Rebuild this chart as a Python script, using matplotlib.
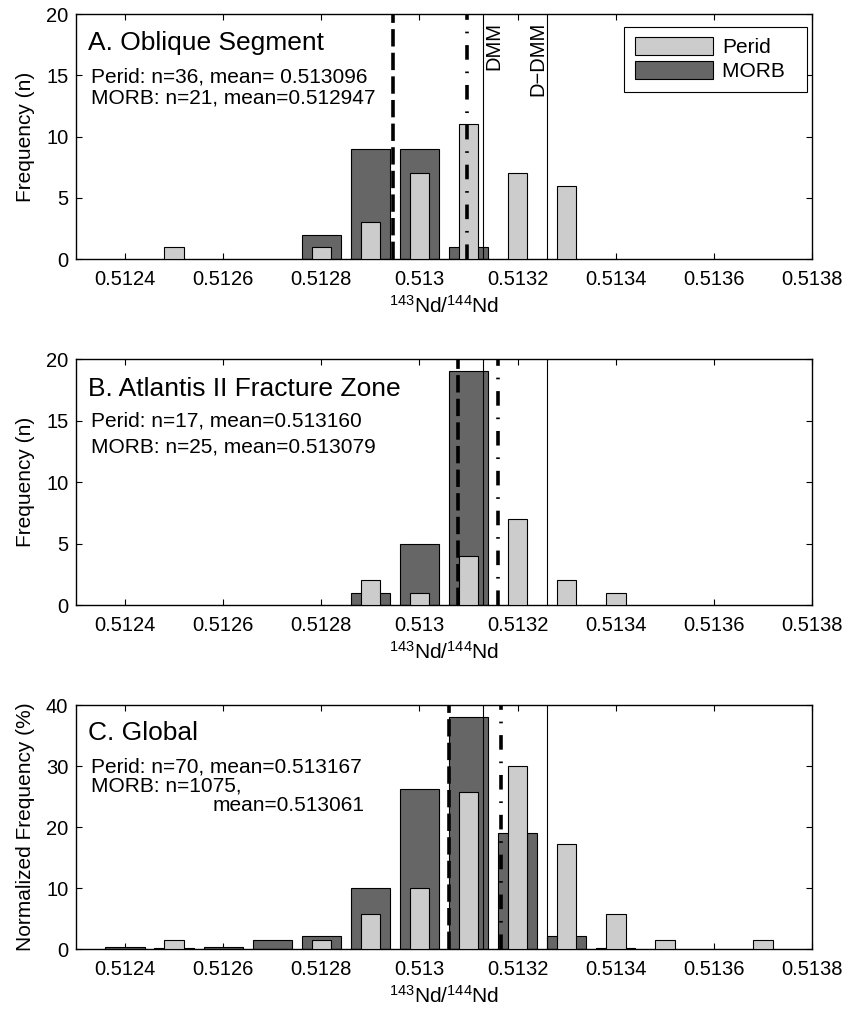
import matplotlib
matplotlib.use("Agg")
import matplotlib.pyplot as plt
from matplotlib.patches import Patch

plt.rcParams['font.family'] = ['Liberation Sans', 'DejaVu Sans']
plt.rcParams['lines.scale_dashes'] = False

# ---- data (bin centres and bar heights) ----
# A. Oblique Segment (counts)
a_perid_x = [0.5125, 0.5128, 0.5129, 0.5130, 0.5131, 0.5132, 0.5133]
a_perid_y = [1, 1, 3, 7, 11, 7, 6]
a_morb_x = [0.5128, 0.5129, 0.5130, 0.5131]
a_morb_y = [2, 9, 9, 1]

# B. Atlantis II Fracture Zone (counts)
b_perid_x = [0.5129, 0.5130, 0.5131, 0.5132, 0.5133, 0.5134]
b_perid_y = [2, 1, 4, 7, 2, 1]
b_morb_x = [0.5129, 0.5130, 0.5131]
b_morb_y = [1, 5, 19]

# C. Global (percent)
c_perid_x = [0.5125, 0.5128, 0.5129, 0.5130, 0.5131, 0.5132, 0.5133, 0.5134, 0.5135, 0.5137]
c_perid_y = [1.43, 1.43, 5.71, 10.0, 25.71, 30.0, 17.14, 5.71, 1.43, 1.43]
c_morb_x = [0.5124, 0.5125, 0.5126, 0.5127, 0.5128, 0.5129, 0.5130, 0.5131, 0.5132, 0.5133, 0.5134]
c_morb_y = [0.3, 0.2, 0.3, 1.5, 2.2, 10.0, 26.2, 38.0, 19.0, 2.2, 0.1]

morb_means = [0.512947, 0.513079, 0.513061]
perid_means = [0.513096, 0.513160, 0.513167]
dmm = 0.51313
d_dmm = 0.51326

titles = ['A. Oblique Segment', 'B. Atlantis II Fracture Zone', 'C. Global']
stats = [
    ['Perid: n=36, mean= 0.513096', 'MORB: n=21, mean=0.512947'],
    ['Perid: n=17, mean=0.513160', 'MORB: n=25, mean=0.513079'],
    ['Perid: n=70, mean=0.513167', 'MORB: n=1075,'],
]
ylabels = ['Frequency (n)', 'Frequency (n)', 'Normalized Frequency (%)']
ylims = [20, 20, 40]
yticks = [[0, 5, 10, 15, 20], [0, 5, 10, 15, 20], [0, 10, 20, 30, 40]]

xtick_vals = [0.5124, 0.5126, 0.5128, 0.5130, 0.5132, 0.5134, 0.5136, 0.5138]
xtick_labels = ['0.5124', '0.5126', '0.5128', '0.513', '0.5132', '0.5134', '0.5136', '0.5138']

perid_col = '#cccccc'
morb_col = '#666666'

fig = plt.figure(figsize=(8.49, 10.15), dpi=100)
boxes = [[0.0895, 0.7448, 0.8669, 0.2414],
         [0.0895, 0.4039, 0.8669, 0.2424],
         [0.0895, 0.0650, 0.8669, 0.2404]]

data = [(a_perid_x, a_perid_y, a_morb_x, a_morb_y),
        (b_perid_x, b_perid_y, b_morb_x, b_morb_y),
        (c_perid_x, c_perid_y, c_morb_x, c_morb_y)]

# text y positions (axes fraction)
title_y = [0.882, 0.878, 0.885]
stat_y = [[0.743, 0.657], [0.749, 0.643], [0.747, 0.669]]

for i in range(3):
    ax = fig.add_axes(boxes[i])
    px, py, mx, my = data[i]
    ax.bar(mx, my, width=0.00008, color=morb_col, edgecolor='k', linewidth=0.8, zorder=2)
    ax.bar(px, py, width=0.00004, color=perid_col, edgecolor='k', linewidth=0.8, zorder=3)

    ax.axvline(dmm, color='k', lw=0.8, zorder=4)
    ax.axvline(d_dmm, color='k', lw=0.8, zorder=4)
    ax.axvline(morb_means[i], color='k', lw=2.6, linestyle=(0, (12.5, 4.5)), zorder=5)
    ax.axvline(perid_means[i], color='k', lw=2.6, linestyle=(0, (10.5, 8.5, 1.2, 8.5)), zorder=5)

    ax.set_xlim(0.5123, 0.5138)
    ax.set_ylim(0, ylims[i])
    ax.set_xticks(xtick_vals)
    ax.set_xticklabels(xtick_labels)
    ax.set_yticks(yticks[i])
    ax.tick_params(direction='in', top=True, right=True, length=4, width=0.8,
                   labelsize=14.5)
    ax.tick_params(axis='x', pad=8)
    ax.tick_params(axis='y', pad=5.5)
    for s in ax.spines.values():
        s.set_linewidth(1.0)

    ax.set_ylabel(ylabels[i], fontsize=15, labelpad=8)
    ax.set_xlabel(r'$\mathregular{^{143}Nd/^{144}Nd}$', fontsize=15, labelpad=4)

    ax.text(0.0163, title_y[i], titles[i], transform=ax.transAxes, fontsize=19,
            va='center', ha='left', zorder=6)
    ax.text(0.0199, stat_y[i][0], stats[i][0], transform=ax.transAxes, fontsize=15,
            va='center', ha='left', zorder=6)
    ax.text(0.0199, stat_y[i][1], stats[i][1], transform=ax.transAxes, fontsize=15,
            va='center', ha='left', zorder=6)

    if i == 2:
        ax.text(0.186, 0.590, 'mean=0.513061', transform=ax.transAxes, fontsize=15,
                va='center', ha='left', zorder=6)

    if i == 0:
        tr = ax.get_xaxis_transform()
        ax.text(dmm + 0.000021, 0.967, 'DMM', transform=tr, rotation=90,
                fontsize=14.5, ha='center', va='top', zorder=6)
        ax.text(d_dmm - 0.000019, 0.967, 'D\u2212DMM', transform=tr, rotation=90,
                fontsize=14.5, ha='center', va='top', zorder=6)
        handles = [Patch(facecolor=perid_col, edgecolor='k', linewidth=0.8, label='Perid'),
                   Patch(facecolor=morb_col, edgecolor='k', linewidth=0.8, label='MORB  ')]
        leg = ax.legend(handles=handles, loc='upper right', bbox_to_anchor=(0.9932, 0.947),
                        borderaxespad=0, fontsize=15, fancybox=False, framealpha=1,
                        edgecolor='k', handlelength=3.75, handleheight=0.91,
                        handletextpad=0.45, labelspacing=0.2, borderpad=0.5)
        leg.get_frame().set_linewidth(0.8)
        leg.set_zorder(7)

fig.savefig('out.png', dpi=100)
